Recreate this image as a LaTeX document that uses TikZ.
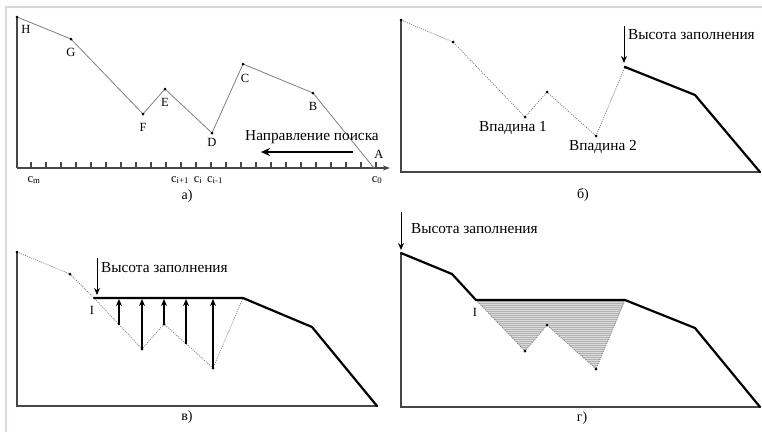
\documentclass[tikz,border=0pt]{standalone}
\usepackage{fontspec}
\setmainfont{Liberation Serif}
\usetikzlibrary{arrows.meta,calc}
\definecolor{framec}{RGB}{218,212,232}
\begin{document}
\begin{tikzpicture}[x=1pt,y=-1pt,
  axisln/.style={draw=black!72,line width=1.4pt},
  profln/.style={draw=black!50,line width=0.8pt,line join=round},
  dotln/.style={draw=black!50,line width=0.8pt,dash pattern=on 1pt off 1.2pt},
  boldln/.style={draw=black,line width=2.2pt,line join=round,line cap=round},
  dotpt/.style={fill=black},
  ptlbl/.style={font=\fontsize{12.5}{12.5}\selectfont,inner sep=0pt},
  txtlbl/.style={font=\fontsize{15.3}{16}\selectfont,inner sep=0pt},
  panlbl/.style={font=\fontsize{14}{14}\selectfont,inner sep=0pt},
  downarr/.style={draw=black,line width=1pt,-{Stealth[length=7pt,width=6pt]}},
  uparr/.style={draw=black,line width=1.3pt,-{Stealth[length=7pt,width=6pt]}}]
\useasboundingbox[fill=white] (0,0) rectangle (762,432);
\draw[framec,line width=1.2pt] (6,432) -- (6,7) -- (762,7);

% ---------- panel a ----------
\coordinate (aO) at (17,168);
\coordinate (aX) at (390,168);
\coordinate (aH) at (17,17);
\coordinate (aG) at (71,39);
\coordinate (aF) at (143,114);
\coordinate (aE) at (165,89);
\coordinate (aD) at (212,133);
\coordinate (aC) at (243,64);
\coordinate (aB) at (313,93);
\coordinate (aA) at (374,168);
\foreach \k in {0,...,23} {\draw[black!72,line width=1.1pt] (31+15*\k,162) -- (31+15*\k,169);}
\draw[axisln] (aH) -- (aO);
\draw[axisln,-{Stealth[length=7pt,width=5pt]}] (aO) -- (aX);
\draw[profln] (aH) -- (aG) -- (aF) -- (aE) -- (aD) -- (aC) -- (aB) -- (aA);
\foreach \p in {aH,aG,aF,aE,aD,aC,aB} {\fill[dotpt] (\p) circle (1.5);}
\node[ptlbl] (lH) at (26,29) {H};
\node[ptlbl] (lG) at (71,52) {G};
\node[ptlbl] (lF) at (143,127) {F};
\node[ptlbl] (lE) at (165,102) {E};
\node[ptlbl] (lD) at (212,142) {D};
\node[ptlbl] (lC) at (245,78) {C};
\node[ptlbl] (lB) at (313,106) {B};
\node[ptlbl] (lA) at (379,154) {A};
\node[ptlbl] (cm) at (34,180) {c\textsubscript{m}};
\node[ptlbl] (cip) at (180,180) {c\textsubscript{i+1}};
\node[ptlbl] (ci) at (198,180) {c\textsubscript{i}};
\node[ptlbl] (cim) at (215,180) {c\textsubscript{i-1}};
\node[ptlbl] (c0) at (377,180) {c\textsubscript{0}};
\node[txtlbl] (dir) at (312,137) {Направление поиска};
\coordinate (dirS) at (353,152);
\coordinate (dirE) at (261,152);
\draw[black,line width=2.2pt,-{Stealth[length=9pt,width=8pt]}] (dirS) -- (dirE);
\node[panlbl] (pa) at (187,196) {а)};

% ---------- panel b ----------
\coordinate (bO) at (401,172);
\coordinate (b1) at (401,20);
\coordinate (b2) at (453,42);
\coordinate (b3) at (525,117);
\coordinate (b4) at (547,92);
\coordinate (b5) at (596,136);
\coordinate (b6) at (625,67);
\coordinate (b7) at (695,95);
\coordinate (b8) at (760,172);
\draw[axisln] (b1) -- (bO) -- (b8);
\draw[dotln] (b1) -- (b2) -- (b3) -- (b4) -- (b5) -- (b6);
\draw[boldln] (b6) -- (b7) -- (b8);
\foreach \p in {b1,b2,b3,b4,b5,b6} {\fill[dotpt] (\p) circle (1.5);}
\coordinate (bArT) at (624,26);
\coordinate (bArB) at (624,63);
\draw[downarr] (bArT) -- (bArB);
\node[txtlbl,anchor=west] (bh) at (628,35) {Высота заполнения};
\node[txtlbl] (v1) at (513,128) {Впадина 1};
\node[txtlbl] (v2) at (603,147) {Впадина 2};
\node[panlbl] (pb) at (583,195) {б)};

% ---------- panel c ----------
\coordinate (cO) at (17,406);
\coordinate (c1) at (17,252);
\coordinate (c2) at (70,274);
\coordinate (cI) at (94,298);
\coordinate (cF) at (142,349);
\coordinate (cE) at (164,324);
\coordinate (cD) at (213,368);
\coordinate (cC) at (243,298);
\coordinate (cB) at (312,327);
\coordinate (c9) at (377,406);
\draw[axisln] (c1) -- (cO) -- (c9);
\draw[dotln] (c1) -- (c2) -- (cI) -- (cF) -- (cE) -- (cD) -- (cC);
\draw[boldln] (cI) -- (cC) -- (cB) -- (c9);
\foreach \p in {c1,c2,cF,cE,cD} {\fill[dotpt] (\p) circle (1.5);}
\coordinate (u1b) at ($(cI)!0.52!(cF)$);
\coordinate (u1t) at (u1b |- cI);
\coordinate (u2t) at (cF |- cI);
\coordinate (u3t) at (cE |- cI);
\coordinate (u4b) at ($(cE)!0.45!(cD)$);
\coordinate (u4t) at (u4b |- cI);
\coordinate (u5t) at (cD |- cI);
\draw[uparr] (u1b) -- ([yshift=-1pt]u1t);
\draw[uparr] (cF) -- ([yshift=-1pt]u2t);
\draw[uparr] (cE) -- ([yshift=-1pt]u3t);
\draw[uparr] (u4b) -- ([yshift=-1pt]u4t);
\draw[uparr] (cD) -- ([yshift=-1pt]u5t);
\coordinate (cArT) at (97,258);
\coordinate (cArB) at (97,295);
\draw[downarr] (cArT) -- (cArB);
\node[txtlbl,anchor=west] (ch) at (101,268) {Высота заполнения};
\node[ptlbl] (cIl) at (92,310) {I};
\node[panlbl] (pc) at (187,417) {в)};

% ---------- panel d ----------
\coordinate (dO) at (401,407);
\coordinate (d1) at (401,253);
\coordinate (d2) at (452,274);
\coordinate (dI) at (476,300);
\coordinate (dF) at (525,351);
\coordinate (dE) at (547,325);
\coordinate (dD) at (596,369);
\coordinate (dC) at (625,300);
\coordinate (dB) at (695,328);
\coordinate (d9) at (760,407);
\begin{scope}
  \clip (dI) -- (dF) -- (dE) -- (dD) -- (dC) -- cycle;
  \fill[black!14] (470,295) rectangle (630,372);
  \foreach \yy in {301,303,...,371} {\draw[black!30,line width=0.35pt] (470,\yy) -- (630,\yy);}
\end{scope}
\draw[dotln] (dI) -- (dF) -- (dE) -- (dD) -- (dC);
\draw[axisln] (d1) -- (dO) -- (d9);
\draw[boldln] (d1) -- (d2) -- (dI) -- (dC) -- (dB) -- (d9);
\foreach \p in {dF,dE,dD} {\fill[dotpt] (\p) circle (1.5);}
\coordinate (dArT) at (401,212);
\coordinate (dArB) at (401,250);
\draw[downarr] (dArT) -- (dArB);
\node[txtlbl,anchor=west] (dh) at (411,229) {Высота заполнения};
\node[ptlbl] (dIl) at (475,312) {I};
\node[panlbl] (pd) at (582,418) {г)};
\end{tikzpicture}
\end{document}
